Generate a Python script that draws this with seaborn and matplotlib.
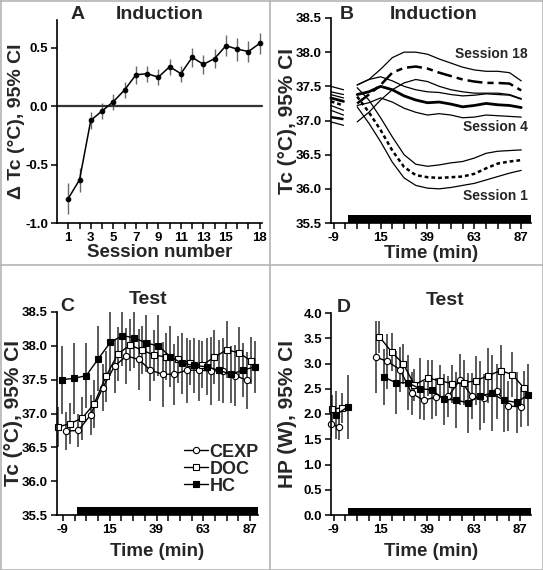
import numpy as np
import pandas as pd
import matplotlib
matplotlib.use("Agg")
import matplotlib.pyplot as plt
from matplotlib.lines import Line2D
import seaborn as sns

# ---------------- Panel A: delta Tc per session ----------------
sessions = list(range(1, 19))
session_labels = [1, 3, 5, 7, 9, 11, 13, 15, 18]
delta_tc = [-0.79, -0.63, -0.12, -0.04, 0.04, 0.14, 0.27, 0.28, 0.25,
            0.34, 0.28, 0.42, 0.36, 0.41, 0.52, 0.49, 0.47, 0.54]
delta_ci = [0.13, 0.10, 0.07, 0.07, 0.07, 0.07, 0.08, 0.07, 0.07,
            0.07, 0.07, 0.08, 0.08, 0.08, 0.09, 0.10, 0.09, 0.09]

# ---------------- Panel B: induction curves (mean + 95% CI) ----------------
b_base_t = [-10.5, -4.0]
b_ind_t = [3, 9, 15, 21, 27, 33, 39, 45, 51, 57, 63, 69, 75, 81, 87]
s18_hi = [37.50, 37.45,
          37.52, 37.60, 37.75, 37.92, 38.00, 38.00, 37.97, 37.90, 37.84, 37.78, 37.74, 37.72, 37.72, 37.70, 37.58]
s18_mean = [37.05, 37.02,
            37.25, 37.38, 37.52, 37.70, 37.77, 37.79, 37.76, 37.70, 37.65, 37.60, 37.57, 37.55, 37.55, 37.54, 37.44]
s18_lo = [36.98, 36.93,
          36.98, 37.12, 37.30, 37.45, 37.55, 37.60, 37.57, 37.50, 37.45, 37.42, 37.40, 37.40, 37.40, 37.38, 37.32]
s4_hi = [37.42, 37.38,
         37.52, 37.60, 37.64, 37.58, 37.50, 37.45, 37.42, 37.41, 37.38, 37.36, 37.37, 37.39, 37.38, 37.37, 37.31]
s4_mean = [37.33, 37.28,
           37.38, 37.42, 37.50, 37.45, 37.36, 37.30, 37.26, 37.27, 37.24, 37.20, 37.22, 37.25, 37.23, 37.22, 37.19]
s4_lo = [37.22, 37.15,
         37.22, 37.26, 37.33, 37.27, 37.18, 37.12, 37.08, 37.10, 37.08, 37.04, 37.05, 37.08, 37.07, 37.06, 37.05]
s1_hi = [37.38, 37.33,
         37.48, 37.30, 37.04, 36.76, 36.50, 36.36, 36.33, 36.35, 36.38, 36.40, 36.45, 36.52, 36.55, 36.56, 36.57]
s1_mean = [37.28, 37.22,
           37.35, 37.12, 36.86, 36.56, 36.32, 36.20, 36.17, 36.16, 36.17, 36.18, 36.22, 36.30, 36.37, 36.40, 36.42]
s1_lo = [37.15, 37.08,
         37.20, 36.96, 36.69, 36.39, 36.16, 36.05, 36.01, 36.00, 36.02, 36.05, 36.08, 36.13, 36.18, 36.23, 36.27]

# ---------------- Panel C: Tc at test ----------------
c_hc_t = [-9.5, -3.2, 3.0, 9.2, 15.3, 21.4, 27.6, 33.7, 40.0, 46.0, 52.2, 58.4, 64.7, 70.8, 77.1, 83.3, 89.5]
c_hc = [37.50, 37.52, 37.56, 37.81, 38.05, 38.15, 38.12, 38.04, 38.00,
        37.84, 37.74, 37.71, 37.69, 37.64, 37.58, 37.64, 37.69]
c_hc_ci = [0.50, 0.52, 0.48, 0.48, 0.50, 0.45, 0.45, 0.42, 0.45,
           0.45, 0.45, 0.40, 0.42, 0.45, 0.42, 0.40, 0.38]
c_doc_t = [-11.7, -5.4, 0.8, 7.0, 13.1, 19.2, 25.4, 31.5, 37.8, 43.8, 50.0, 56.2, 62.5, 68.6, 74.9, 81.1, 87.3]
c_doc = [36.80, 36.85, 36.93, 37.14, 37.55, 37.88, 38.01, 37.94, 37.86,
         37.84, 37.80, 37.75, 37.72, 37.83, 37.94, 37.90, 37.78]
c_doc_ci = [0.30, 0.30, 0.32, 0.35, 0.38, 0.40, 0.38, 0.35, 0.38,
            0.35, 0.35, 0.33, 0.35, 0.40, 0.42, 0.38, 0.35]
c_cexp_t = [-7.3, -1.0, 5.2, 11.4, 17.5, 23.6, 29.8, 35.9, 42.2, 48.2, 54.4, 60.6, 66.9, 73.0, 79.3, 85.5]
c_cexp = [36.74, 36.75, 36.98, 37.38, 37.70, 37.85, 37.80, 37.64, 37.58,
          37.58, 37.64, 37.64, 37.63, 37.63, 37.56, 37.49]
c_cexp_ci = [0.28, 0.25, 0.30, 0.35, 0.40, 0.42, 0.45, 0.45, 0.48,
             0.45, 0.48, 0.45, 0.50, 0.48, 0.45, 0.42]

# ---------------- Panel D: heat production at test ----------------
d_cexp_base_t = [-10.3, -6.2]
d_cexp_base = [1.80, 1.74]
d_cexp_base_ci = [0.25, 0.25]
d_doc_base_t = [-9.8, -4.8]
d_doc_base = [2.10, 2.12]
d_doc_base_ci = [0.28, 0.30]
d_hc_base_t = [-8.0, -1.8]
d_hc_base = [1.98, 2.14]
d_hc_base_ci = [0.47, 0.63]

d_cexp_t = [12.6, 18.6, 25.1, 31.1, 37.4, 43.6, 50.0, 56.0, 62.0, 68.5, 74.9, 80.8, 87.2]
d_cexp = [3.13, 3.04, 2.88, 2.41, 2.27, 2.34, 2.35, 2.68, 2.36, 2.31, 2.45, 2.16, 2.14]
d_cexp_ci = [0.72, 0.55, 0.45, 0.42, 0.38, 0.38, 0.40, 0.50, 0.45, 0.48, 0.55, 0.50, 0.40]
d_doc_t = [14.5, 20.8, 26.8, 32.5, 39.3, 45.7, 52.0, 58.2, 64.2, 70.5, 76.9, 82.9, 89.0]
d_doc = [3.53, 3.23, 2.99, 2.58, 2.71, 2.66, 2.60, 2.62, 2.66, 2.76, 2.86, 2.78, 2.51]
d_doc_ci = [0.32, 0.38, 0.40, 0.32, 0.35, 0.32, 0.38, 0.45, 0.48, 0.55, 0.50, 0.45, 0.35]
d_hc_t = [17.0, 22.9, 29.0, 35.4, 41.4, 47.7, 53.9, 59.9, 66.3, 72.3, 78.6, 85.1, 91.1]
d_hc = [2.73, 2.62, 2.62, 2.50, 2.48, 2.29, 2.28, 2.22, 2.36, 2.41, 2.27, 2.23, 2.38]
d_hc_ci = [0.55, 0.62, 0.55, 0.60, 0.58, 0.50, 0.55, 0.60, 0.68, 0.75, 0.62, 0.60, 0.62]

stim_start = -1.5
time_major = [-9, 15, 39, 63, 87]
time_minor = list(range(-9, 88, 6))

sns.set_theme(style="ticks")
plt.rcParams['font.family'] = ['Liberation Sans', 'DejaVu Sans']
plt.rcParams.update({
    'font.weight': 'bold', 'axes.labelweight': 'bold', 'axes.unicode_minus': False,
    'axes.linewidth': 1.2, 'xtick.major.width': 1.1, 'ytick.major.width': 1.1,
    'xtick.minor.width': 1.1, 'xtick.major.size': 4, 'ytick.major.size': 4,
    'xtick.minor.size': 4, 'xtick.direction': 'out', 'ytick.direction': 'out',
    'xtick.major.pad': 2.5, 'ytick.major.pad': 2.5,
    'xtick.labelsize': 9.5, 'ytick.labelsize': 9.5, 'axes.labelsize': 13.5,
    'xtick.color': 'black', 'ytick.color': 'black', 'axes.edgecolor': 'black',
})

W, H = 543, 570
fig = plt.figure(figsize=(W / 100, H / 100), dpi=100)


def box(l, t, r, b):
    return [l / W, 1 - b / H, (r - l) / W, (b - t) / H]


axA = fig.add_axes(box(57, 20, 262, 223))
axB = fig.add_axes(box(331, 18, 531, 223))
axC = fig.add_axes(box(57, 312, 258, 515))
axD = fig.add_axes(box(331, 313, 531, 515))


def line(ax, t, y, **kw):
    df = pd.DataFrame({'t': t, 'y': y})
    sns.lineplot(data=df, x='t', y='y', ax=ax, estimator=None, errorbar=None,
                 sort=False, **kw)


def ebar(ax, t, y, ci, color='#4d4d4d', lw=1.3):
    ax.errorbar(t, y, yerr=ci, fmt='none', ecolor=color, elinewidth=lw,
                capsize=0, zorder=1)


def time_axis(ax):
    ax.set_xticks(time_major)
    ax.set_xticks(time_minor, minor=True)
    ax.tick_params(axis='x', which='minor', length=4)


# ---- A ----
ebar(axA, sessions, delta_tc, delta_ci, color='#6a6a6a', lw=1.0)
axA.axhline(0, color='#333333', lw=1.6, zorder=1)
line(axA, sessions, delta_tc, color='black', lw=1.1, marker='o', markersize=3.3,
     markerfacecolor='black', markeredgecolor='black')
axA.set_xlim(0, 18.2)
axA.set_ylim(-1.0, 0.74)
axA.set_xticks(sessions)
axA.set_xticklabels([str(s) if s in session_labels else '' for s in sessions])
axA.set_yticks([-1.0, -0.5, 0.0, 0.5])
axA.set_yticklabels(['-1.0', '-0.5', '0.0', '0.5'])
axA.set_xlabel('Session number')
axA.set_ylabel('Δ Tc (°C), 95% CI', fontsize=14)

# ---- B ----
thin = dict(color='black', lw=0.9)
styles = [
    (s18_hi, thin), (s18_lo, thin), (s4_hi, thin), (s4_lo, thin), (s1_hi, thin), (s1_lo, thin),
    (s18_mean, dict(color='black', lw=1.8, linestyle=(0, (6, 2, 2.5, 2)))),
    (s4_mean, dict(color='black', lw=2.0)),
    (s1_mean, dict(color='black', lw=1.8, linestyle=(0, (1.5, 1.2)))),
]
for vals, st in styles:
    line(axB, b_base_t, vals[:2], **st)
    line(axB, b_ind_t, vals[2:], **st)
axB.fill_between([stim_start, 92], 35.5, 35.62, color='black', lw=0, zorder=3)
axB.set_xlim(-10.4, 92)
axB.set_ylim(35.5, 38.5)
time_axis(axB)
axB.set_yticks([35.5, 36.0, 36.5, 37.0, 37.5, 38.0, 38.5])
axB.set_xlabel('Time (min)')
axB.set_ylabel('Tc (°C), 95% CI', fontsize=15)
for txt, yy in [('Session 18', 37.98), ('Session 4', 36.90), ('Session 1', 35.90)]:
    axB.text(0.985, (yy - 35.5) / 3.0, txt, transform=axB.transAxes, ha='right',
             va='center', fontsize=10, fontweight='bold')

# ---- C ----
for t, y, ci in [(c_cexp_t, c_cexp, c_cexp_ci), (c_doc_t, c_doc, c_doc_ci), (c_hc_t, c_hc, c_hc_ci)]:
    ebar(axC, t, y, ci)
mk = dict(color='black', lw=1.0, markersize=4.5, markeredgewidth=0.8, markeredgecolor='black')
line(axC, c_cexp_t, c_cexp, marker='o', markerfacecolor='white', label='CEXP', **mk)
line(axC, c_doc_t, c_doc, marker='s', markerfacecolor='white', label='DOC', **mk)
line(axC, c_hc_t, c_hc, marker='s', markerfacecolor='black', label='HC', **mk)
axC.fill_between([stim_start, 91], 35.5, 35.62, color='black', lw=0, zorder=3)
axC.set_xlim(-12, 91)
axC.set_ylim(35.5, 38.5)
time_axis(axC)
axC.set_yticks([35.5, 36.0, 36.5, 37.0, 37.5, 38.0, 38.5])
axC.set_xlabel('Time (min)')
axC.set_ylabel('Tc (°C), 95% CI', fontsize=15)
handles, labels = axC.get_legend_handles_labels()
axC.legend(handles, labels, loc='lower right', bbox_to_anchor=(1.04, 0.065),
           frameon=False, fontsize=13, handlelength=1.3, handletextpad=0.1,
           labelspacing=0.0, borderaxespad=0)

# ---- D ----
for t, y, ci in [(d_cexp_base_t, d_cexp_base, d_cexp_base_ci), (d_doc_base_t, d_doc_base, d_doc_base_ci),
                 (d_hc_base_t, d_hc_base, d_hc_base_ci), (d_cexp_t, d_cexp, d_cexp_ci),
                 (d_doc_t, d_doc, d_doc_ci), (d_hc_t, d_hc, d_hc_ci)]:
    ebar(axD, t, y, ci)
for (t0, y0, t1, y1, m, fc) in [(d_cexp_base_t, d_cexp_base, d_cexp_t, d_cexp, 'o', 'white'),
                                (d_doc_base_t, d_doc_base, d_doc_t, d_doc, 's', 'white'),
                                (d_hc_base_t, d_hc_base, d_hc_t, d_hc, 's', 'black')]:
    line(axD, t0, y0, marker=m, markerfacecolor=fc, **mk)
    line(axD, t1, y1, marker=m, markerfacecolor=fc, **mk)
axD.fill_between([stim_start, 92.5], 0, 0.13, color='black', lw=0, zorder=3)
axD.set_xlim(-10.4, 92.5)
axD.set_ylim(0, 4.0)
time_axis(axD)
axD.set_yticks([0.0, 0.5, 1.0, 1.5, 2.0, 2.5, 3.0, 3.5, 4.0])
axD.set_yticklabels(['0.0', '0.5', '1.0', '1.5', '2.0', '2.5', '3.0', '3.5', '4.0'])
axD.set_xlabel('Time (min)')
axD.set_ylabel('HP (W), 95% CI', fontsize=15)

for ax in (axA, axB, axC, axD):
    sns.despine(ax=ax)
    for lab in ax.get_xticklabels() + ax.get_yticklabels():
        lab.set_fontweight('bold')
    for m in ax.lines:
        m.set_clip_on(False)
for ax in (axB, axD):
    ax.yaxis.set_label_coords(-0.17, 0.5)
axA.yaxis.set_label_coords(-0.155, 0.5)
axC.yaxis.set_label_coords(-0.168, 0.5)
axA.xaxis.set_label_coords(0.5, -0.105)
axB.xaxis.set_label_coords(0.5, -0.105)
axC.xaxis.set_label_coords(0.5, -0.14)
axD.xaxis.set_label_coords(0.5, -0.14)

# panel letters and titles
tkw = dict(fontsize=14, fontweight='bold', ha='center', va='center')
axA.text(0.10, 1.025, 'A', transform=axA.transAxes, **tkw)
axA.text(0.50, 1.025, 'Induction', transform=axA.transAxes, **tkw)
axB.text(0.08, 1.015, 'B', transform=axB.transAxes, **tkw)
axB.text(0.515, 1.015, 'Induction', transform=axB.transAxes, **tkw)
axC.text(0.05, 1.025, 'C', transform=axC.transAxes, **tkw)
axC.text(0.455, 1.06, 'Test', transform=axC.transAxes, **tkw)
axD.text(0.064, 1.025, 'D', transform=axD.transAxes, **tkw)
axD.text(0.57, 1.06, 'Test', transform=axD.transAxes, **tkw)

# grey panel frame
gc = '#b4b4b4'
for xs, ys in [([0.5 / W, 0.5 / W], [0, 1]), ([1 - 0.5 / W, 1 - 0.5 / W], [0, 1]),
               ([0, 1], [0.5 / H, 0.5 / H]), ([0, 1], [1 - 0.5 / H, 1 - 0.5 / H]),
               ([270 / W, 270 / W], [0, 1]), ([0, 1], [1 - 265 / H, 1 - 265 / H])]:
    fig.add_artist(Line2D(xs, ys, color=gc, lw=1.2, transform=fig.transFigure))

fig.savefig('out.png', dpi=100)
